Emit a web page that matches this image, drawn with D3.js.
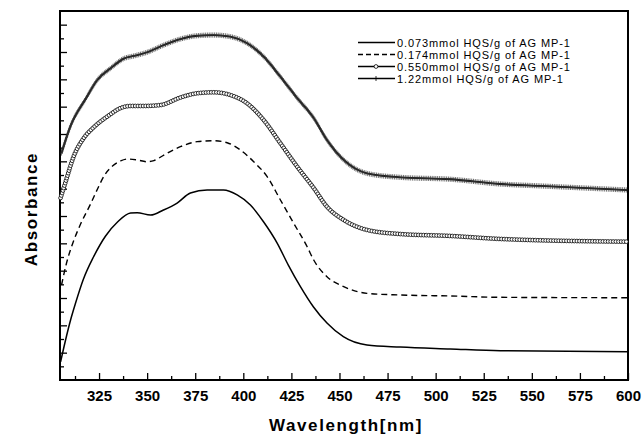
<!DOCTYPE html>
<html>
<head>
<meta charset="utf-8">
<script src="https://cdn.jsdelivr.net/npm/d3@7"></script>
<style>
  body { margin: 0; background: #fff; }
  svg { font-family: "Liberation Sans", Arial, sans-serif; }
  .tick text { font-size: 15px; font-weight: bold; fill: #000; }
  .legend text { font-size: 11px; letter-spacing: 0.9px; }
</style>
</head>
<body>
<div id="chart"></div>
<script>
// spectra (absorbance in arbitrary units)
var wl073 = [305, 307.6, 310.2, 312.8, 316.9, 322.1, 328.4, 334.6, 341.4, 344.8, 351.8, 358.5, 365.6, 372.5, 381.2, 389.7, 396.8, 403.7, 410.5, 417.6, 423.4, 429.7, 436.4, 443.5, 452.0, 464.3, 481.6, 507.6, 533.6, 600];
var abs073 = [0.132, 0.293, 0.439, 0.563, 0.739, 0.900, 1.054, 1.156, 1.222, 1.224, 1.207, 1.244, 1.295, 1.368, 1.390, 1.390, 1.354, 1.280, 1.158, 1.002, 0.841, 0.683, 0.536, 0.417, 0.317, 0.256, 0.241, 0.227, 0.214, 0.207];

var wl174 = [305.5, 308.1, 311.2, 315.4, 320.6, 324.2, 327.9, 332.0, 336.2, 339.9, 344.8, 350, 353.5, 358.7, 367.3, 376, 384.6, 391.6, 398.5, 405.4, 412.4, 419.3, 426.2, 433.2, 436.6, 443.5, 452.2, 464.3, 481.6, 507.6, 533.6, 600];
var abs174 = [0.695, 0.856, 0.995, 1.141, 1.288, 1.398, 1.500, 1.566, 1.603, 1.617, 1.610, 1.597, 1.605, 1.646, 1.707, 1.744, 1.751, 1.736, 1.683, 1.597, 1.488, 1.317, 1.147, 0.975, 0.878, 0.756, 0.683, 0.634, 0.622, 0.615, 0.605, 0.602];

var wl550 = [305, 307.6, 311.9, 317.1, 322.3, 330, 336.2, 341.4, 348.3, 357, 367.3, 376, 384.6, 393.3, 402, 410.6, 419.3, 428, 436.6, 443.5, 452.2, 464.3, 481.6, 507.6, 533.6, 600];
var abs550 = [1.332, 1.449, 1.639, 1.771, 1.850, 1.935, 1.990, 2.005, 2.005, 2.012, 2.067, 2.098, 2.105, 2.085, 2.024, 1.902, 1.732, 1.561, 1.405, 1.268, 1.171, 1.098, 1.068, 1.054, 1.032, 1.012];

var wl122 = [305.5, 310.2, 318, 324.1, 331, 337.9, 343.1, 350, 358.7, 367.3, 376, 384.6, 393.3, 402, 410.6, 419.3, 428, 436.6, 443.5, 452.2, 464.3, 481.6, 507.6, 533.6, 554.4, 600];
var abs122 = [1.661, 1.859, 2.056, 2.195, 2.281, 2.352, 2.371, 2.398, 2.451, 2.495, 2.519, 2.524, 2.512, 2.464, 2.366, 2.219, 2.063, 1.917, 1.756, 1.610, 1.512, 1.483, 1.469, 1.434, 1.420, 1.390];

var legendLabels = ["0.073mmol HQS/g of AG MP-1", "0.174mmol HQS/g of AG MP-1", "0.550mmol HQS/g of AG MP-1", "1.22mmol HQS/g of AG MP-1"];
var xMajor = [325, 350, 375, 400, 425, 450, 475, 500, 525, 550, 575, 600];
var xMinor = [312.5, 337.5, 362.5, 387.5, 412.5, 437.5, 462.5, 487.5, 512.5, 537.5, 562.5, 587.5];
var yMajor = [0.2, 0.4, 0.6, 0.8, 1.0, 1.2, 1.4, 1.6, 1.8, 2.0, 2.2, 2.4, 2.6];
var yMinor = [0.1, 0.3, 0.5, 0.7, 0.9, 1.1, 1.3, 1.5, 1.7, 1.9, 2.1, 2.3, 2.5];

var width = 642,
	height = 437;
var margin = {top: 11, right: 14, bottom: 57, left: 60};

var svg = d3.select("#chart")
	.append("svg")
	.attr("width", width)
	.attr("height", height);

var x = d3.scaleLinear()
	.domain([304.7, 600])
	.range([margin.left, width - margin.right]);
var y = d3.scaleLinear()
	.domain([0, 2.7])
	.range([height - margin.bottom, margin.top]);

// axes, ticks pointing inward
function plain(g) {
	g.select(".domain").remove();
	g.selectAll("line").attr("stroke-width", 1.3);
}
svg.append("g")
	.attr("transform", "translate(0," + y(0) + ")")
	.call(d3.axisBottom(x).tickValues(xMajor).tickSize(-7).tickPadding(10).tickFormat(d3.format("d")))
	.call(plain);
svg.append("g")
	.attr("transform", "translate(0," + y(0) + ")")
	.call(d3.axisBottom(x).tickValues(xMinor).tickSize(-4).tickFormat(""))
	.call(plain);
svg.append("g")
	.attr("transform", "translate(" + x.range()[0] + ",0)")
	.call(d3.axisLeft(y).tickValues(yMajor).tickSize(-7).tickFormat(""))
	.call(plain);
svg.append("g")
	.attr("transform", "translate(" + x.range()[0] + ",0)")
	.call(d3.axisLeft(y).tickValues(yMinor).tickSize(-4).tickFormat(""))
	.call(plain);

// frame
svg.append("rect")
	.attr("x", x.range()[0])
	.attr("y", y.range()[1])
	.attr("width", x.range()[1] - x.range()[0])
	.attr("height", y.range()[0] - y.range()[1])
	.attr("fill", "none")
	.attr("stroke", "black")
	.attr("stroke-width", 2);

var line = d3.line()
	.x(function(d){ return x(d[0]); })
	.y(function(d){ return y(d[1]); })
	.curve(d3.curveMonotoneX);

function pairs(w, a) { return w.map(function(v, i){ return [v, a[i]]; }); }

var plot = svg.append("g");

var p073 = plot.append("path")
	.attr("d", line(pairs(wl073, abs073)))
	.attr("fill", "none").attr("stroke", "black").attr("stroke-width", 1.5);

var p174 = plot.append("path")
	.attr("d", line(pairs(wl174, abs174)))
	.attr("fill", "none").attr("stroke", "black").attr("stroke-width", 1.4)
	.attr("stroke-dasharray", "6,4");

var p550 = plot.append("path")
	.attr("d", line(pairs(wl550, abs550)))
	.attr("fill", "none").attr("stroke", "black").attr("stroke-width", 1.2);

var p122 = plot.append("path")
	.attr("d", line(pairs(wl122, abs122)))
	.attr("fill", "none").attr("stroke", "black").attr("stroke-width", 1.8);

// symbols sit densely along the drawn curves, like the instrument's data points
function along(path, step) {
	var node = path.node(), L = node.getTotalLength();
	return d3.range(0, L, step).map(function(l){ return node.getPointAtLength(l); });
}

plot.append("g").selectAll("circle")
	.data(along(p550, 2.6))
	.enter().append("circle")
	.attr("cx", function(d){ return d.x; })
	.attr("cy", function(d){ return d.y; })
	.attr("r", 1.9)
	.attr("fill", "white")
	.attr("stroke", "black")
	.attr("stroke-width", 0.8);

plot.append("g").selectAll("path")
	.data(along(p122, 1.8))
	.enter().append("path")
	.attr("d", function(d){ return "M" + d.x + "," + (d.y - 2.6) + "V" + (d.y + 2.6) + "M" + (d.x - 1.4) + "," + d.y + "H" + (d.x + 1.4); })
	.attr("stroke", "#333")
	.attr("stroke-width", 0.7);

// legend
var legend = svg.append("g").attr("class", "legend");
var ly = [42.5, 54.5, 66.5, 78.5];
legendLabels.forEach(function(t, i) {
	var g = legend.append("g").attr("transform", "translate(0," + ly[i] + ")");
	g.append("line")
		.attr("x1", 358).attr("x2", 395)
		.attr("stroke", "black")
		.attr("stroke-width", i == 3 ? 1.6 : 1.4)
		.attr("stroke-dasharray", i == 1 ? "5,3" : null);
	if (i == 2) {
		g.append("circle").attr("cx", 376).attr("r", 1.9)
			.attr("fill", "white").attr("stroke", "black").attr("stroke-width", 0.8);
	}
	if (i == 3) {
		g.append("line").attr("x1", 376).attr("x2", 376).attr("y1", -2.5).attr("y2", 2.5)
			.attr("stroke", "black").attr("stroke-width", 0.8);
	}
	g.append("text")
		.attr("x", 397)
		.attr("y", 4)
		.text(t);
});

// axis titles
svg.append("text")
	.attr("x", 346)
	.attr("y", 431)
	.attr("text-anchor", "middle")
	.style("font-size", "17px")
	.style("font-weight", "bold")
	.style("letter-spacing", "1.6px")
	.text("Wavelength[nm]");

svg.append("text")
	.attr("transform", "translate(37,209) rotate(-90)")
	.attr("text-anchor", "middle")
	.style("font-size", "17px")
	.style("font-weight", "bold")
	.style("letter-spacing", "1.6px")
	.text("Absorbance");
</script>
</body>
</html>
